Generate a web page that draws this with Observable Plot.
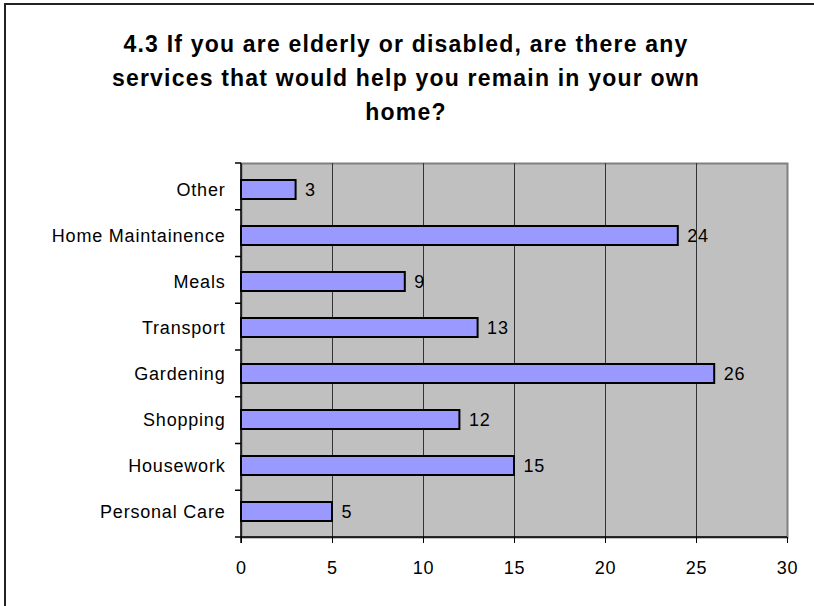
<!DOCTYPE html>
<html><head><meta charset="utf-8">
<script src="https://cdn.jsdelivr.net/npm/d3@7"></script>
<script src="https://cdn.jsdelivr.net/npm/@observablehq/plot@0.6"></script>
<style>
body{margin:0;background:#fff;}
#wrap{position:relative;width:814px;height:606px;overflow:hidden;font-family:"Liberation Sans",Arial,sans-serif;}
#wrap svg{position:absolute;left:0;top:0;}
#frame{position:absolute;left:4px;top:3px;width:900px;height:700px;border-left:2px solid #222;border-top:2px solid #222;}
#title{position:absolute;left:0;width:812px;top:27px;text-align:center;font-weight:bold;font-size:23px;line-height:34px;letter-spacing:1.2px;color:#000;}
#wrap svg text{letter-spacing:0.8px;}
</style></head>
<body><div id="wrap"><div id="frame"></div><div id="title">4.3 If you are elderly or disabled, are there any<br>services that would help you remain in your own<br>home?</div></div>
<script>
const categories = ["Other","Home Maintainence","Meals","Transport","Gardening","Shopping","Housework","Personal Care"];
const counts = [3,24,9,13,26,12,15,5];
const xTicks = [0,5,10,15,20,25,30];
const data = categories.map((c,i)=>({category:c,count:counts[i]}));

// Excel-style category ticks between bands, plus the axis lines
function bandBoundaryTicks(index, scales, values, dims) {
  const top = dims.marginTop, bottom = dims.height - dims.marginBottom;
  const left = dims.marginLeft, right = dims.width - dims.marginRight;
  const n = categories.length, step = (bottom - top) / n;
  const g = d3.create("svg:g").attr("stroke", "#000").attr("fill", "none");
  for (let i = 0; i <= n; i++) {
    const y = top + i * step;
    g.append("line").attr("x1", left - 6).attr("x2", left).attr("y1", y).attr("y2", y).attr("stroke-width", 1.5);
  }
  g.append("line").attr("x1", left).attr("x2", left).attr("y1", top).attr("y2", bottom + 6).attr("stroke-width", 1.5);
  g.append("line").attr("x1", left).attr("x2", right).attr("y1", bottom).attr("y2", bottom).attr("stroke-width", 1.5);
  return g.node();
}

const chart = Plot.plot({
  width: 814,
  height: 606,
  marginLeft: 241,
  marginRight: 27,
  marginTop: 163,
  marginBottom: 69,
  style: {background: "transparent", fontFamily: "'Liberation Sans', Arial, sans-serif", color: "#000"},
  x: {domain: [0, 30]},
  y: {domain: categories, paddingInner: 0.59, paddingOuter: 0.295},
  marks: [
    Plot.frame({fill: "#c0c0c0", stroke: "#808080", strokeWidth: 2}),
    Plot.ruleX(xTicks.filter(v => v > 0 && v < 30), {stroke: "#333", strokeWidth: 1}),
    Plot.barX(data, {x: "count", y: "category", fill: "#9999ff", stroke: "#000", strokeWidth: 2}),
    Plot.text(data, {x: "count", y: "category", text: d => String(d.count), textAnchor: "start", dx: 9, fontSize: 18, fill: "#000"}),
    Plot.axisX({ticks: xTicks, tickSize: 6, tickPadding: 18, fontSize: 18, label: null, stroke: "#000"}),
    Plot.axisY({tickSize: 0, tickPadding: 16, fontSize: 18, label: null}),
    bandBoundaryTicks
  ]
});
document.getElementById("wrap").insertBefore(chart, document.getElementById("wrap").firstChild);
</script>
</body></html>
